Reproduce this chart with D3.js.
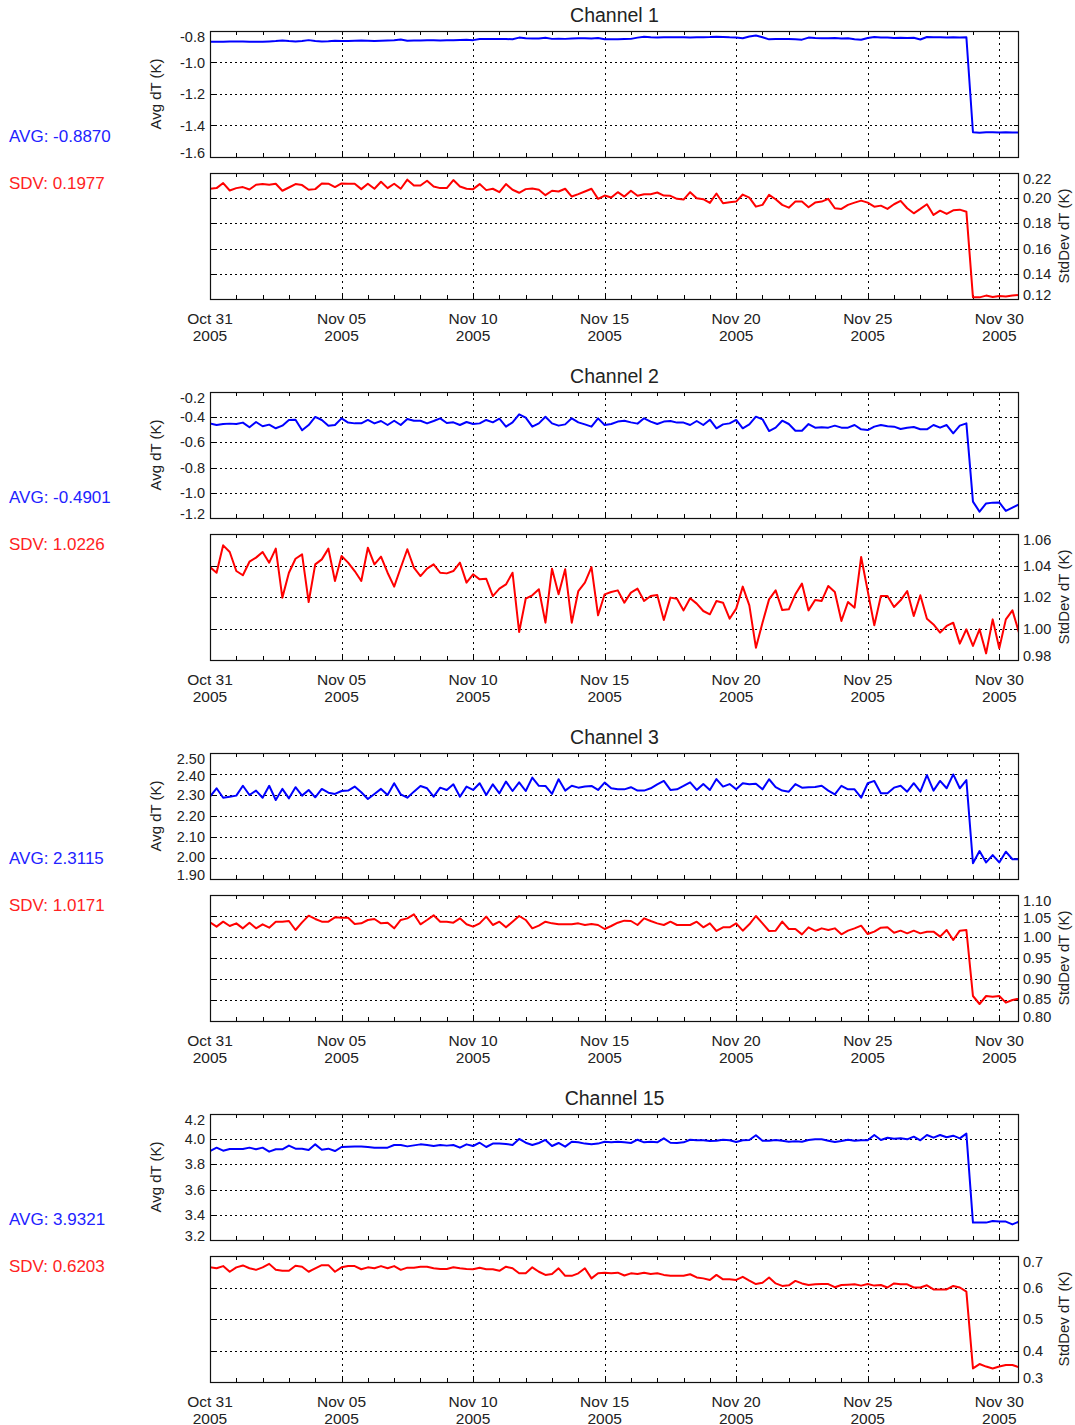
<!DOCTYPE html>
<html>
<head>
<meta charset="utf-8">
<script src="https://cdn.jsdelivr.net/npm/d3@7"></script>
<style>
  html, body { margin: 0; padding: 0; background: #fff; }
  svg { display: block; font-family: "Liberation Sans", Arial, Helvetica, sans-serif; }
</style>
</head>
<body>
<svg id="chart" width="1075" height="1425"></svg>
<script>
// ---- Data: 6-hourly averages and standard deviations of dT, Oct 31 - Nov 30 2005 ----
const channelNames = ["Channel 1", "Channel 2", "Channel 3", "Channel 15"];
const avgSummary = ["-0.8870", "-0.4901", "2.3115", "3.9321"];
const sdvSummary = ["0.1977", "1.0226", "1.0171", "0.6203"];

const sampleStart = "2005-10-31T00:00:00Z";
const sampleStepHours = 6;

const ch1Avg = [
  -0.868,-0.868,-0.868,-0.867,-0.866,-0.867,-0.868,-0.868,-0.868,-0.866,
  -0.864,-0.860,-0.864,-0.866,-0.864,-0.858,-0.864,-0.866,-0.865,-0.862,
  -0.864,-0.863,-0.862,-0.861,-0.862,-0.864,-0.862,-0.860,-0.858,-0.854,
  -0.862,-0.861,-0.860,-0.858,-0.859,-0.860,-0.859,-0.858,-0.857,-0.856,
  -0.858,-0.851,-0.851,-0.850,-0.850,-0.851,-0.852,-0.842,-0.846,-0.848,
  -0.848,-0.843,-0.850,-0.849,-0.850,-0.847,-0.846,-0.846,-0.848,-0.845,
  -0.852,-0.853,-0.852,-0.851,-0.850,-0.842,-0.836,-0.840,-0.841,-0.840,
  -0.840,-0.839,-0.840,-0.841,-0.840,-0.839,-0.838,-0.836,-0.838,-0.840,
  -0.841,-0.846,-0.835,-0.829,-0.840,-0.853,-0.851,-0.850,-0.851,-0.853,
  -0.855,-0.842,-0.845,-0.846,-0.846,-0.845,-0.847,-0.846,-0.852,-0.856,
  -0.845,-0.838,-0.842,-0.842,-0.844,-0.843,-0.845,-0.843,-0.854,-0.838,
  -0.840,-0.840,-0.841,-0.840,-0.841,-0.840,
  -1.443,-1.446,-1.443,-1.443,-1.444,-1.443,-1.445,-1.444
];
const ch1Std = [
  0.2075,0.2080,0.2120,0.2061,0.2080,0.2088,0.2069,0.2107,0.2112,0.2107,
  0.2115,0.2059,0.2085,0.2112,0.2104,0.2067,0.2072,0.2117,0.2115,0.2088,
  0.2117,0.2115,0.2115,0.2072,0.2115,0.2075,0.2131,0.2080,0.2115,0.2075,
  0.2147,0.2101,0.2101,0.2139,0.2093,0.2080,0.2080,0.2144,0.2093,0.2075,
  0.2072,0.2112,0.2064,0.2075,0.2048,0.2112,0.2067,0.2043,0.2072,0.2077,
  0.2067,0.2024,0.2059,0.2053,0.2075,0.2013,0.2032,0.2053,0.2075,0.1995,
  0.2021,0.2005,0.2048,0.2013,0.2059,0.2019,0.2032,0.2032,0.2045,0.2021,
  0.2019,0.1995,0.1989,0.2048,0.2000,0.1992,0.1963,0.2037,0.1960,0.1968,
  0.1973,0.2029,0.2005,0.1933,0.1947,0.2027,0.1992,0.1947,0.1925,0.1973,
  0.1973,0.1928,0.1965,0.1973,0.1995,0.1920,0.1915,0.1947,0.1965,0.1981,
  0.1965,0.1933,0.1941,0.1915,0.1952,0.1979,0.1920,0.1880,0.1915,0.1952,
  0.1867,0.1901,0.1875,0.1904,0.1909,0.1893,
  0.1213,0.1213,0.1227,0.1216,0.1224,0.1219,0.1227,0.1232
];
const ch2Avg = [
  -0.449,-0.462,-0.454,-0.451,-0.454,-0.443,-0.480,-0.438,-0.472,-0.459,
  -0.488,-0.467,-0.422,-0.420,-0.504,-0.462,-0.398,-0.422,-0.467,-0.462,
  -0.409,-0.443,-0.449,-0.449,-0.422,-0.449,-0.430,-0.462,-0.428,-0.462,
  -0.414,-0.428,-0.428,-0.449,-0.430,-0.409,-0.446,-0.441,-0.462,-0.438,
  -0.454,-0.449,-0.422,-0.441,-0.412,-0.475,-0.441,-0.377,-0.404,-0.475,
  -0.449,-0.396,-0.449,-0.467,-0.457,-0.409,-0.441,-0.457,
  -0.475,-0.409,-0.462,-0.454,-0.435,-0.428,-0.441,-0.451,-0.409,-0.435,
  -0.454,-0.435,-0.430,-0.443,-0.443,-0.462,-0.430,-0.462,-0.420,-0.488,
  -0.457,-0.449,-0.422,-0.488,-0.457,-0.396,-0.417,-0.510,-0.483,-0.428,
  -0.454,-0.507,-0.507,-0.454,-0.483,-0.480,-0.483,-0.467,-0.483,-0.483,
  -0.462,-0.496,-0.502,-0.475,-0.462,-0.472,-0.475,-0.494,
  -0.483,-0.478,-0.496,-0.496,-0.462,-0.483,-0.462,-0.528,-0.467,-0.449,
  -1.070,-1.150,-1.084,-1.078,-1.076,-1.144,-1.118,-1.092
];
const ch2Std = [
  1.0390,1.0354,1.0528,1.0486,1.0365,1.0338,1.0424,1.0450,1.0486,1.0418,
  1.0507,1.0196,1.0354,1.0443,1.0471,1.0168,1.0407,1.0439,1.0507,1.0302,
  1.0460,1.0418,1.0365,1.0302,1.0513,1.0407,1.0456,1.0354,1.0266,1.0386,
  1.0503,1.0386,1.0333,1.0380,1.0407,1.0354,1.0350,1.0365,1.0418,1.0291,
  1.0344,1.0312,1.0316,1.0206,1.0253,1.0280,1.0354,0.9978,1.0189,1.0211,
  1.0249,1.0037,1.0380,1.0217,1.0376,1.0037,1.0238,1.0291,1.0390,1.0084,
  1.0217,1.0232,1.0242,1.0164,1.0228,1.0253,1.0175,1.0206,1.0213,1.0054,
  1.0196,1.0189,1.0115,1.0192,1.0158,1.0111,1.0090,1.0175,1.0164,1.0062,
  1.0126,1.0266,1.0147,0.9878,1.0037,1.0185,1.0242,1.0117,1.0122,1.0217,
  1.0285,1.0115,1.0181,1.0175,1.0270,1.0232,1.0048,1.0168,1.0132,1.0454,
  1.0238,1.0020,1.0206,1.0206,1.0137,1.0179,1.0238,1.0079,1.0211,1.0062,
  1.0026,0.9974,1.0016,1.0037,0.9904,0.9995,
  0.9889,0.9995,0.9842,1.0058,0.9874,1.0058,1.0115,0.9974
];
const ch3Avg = [
  2.292,2.332,2.287,2.292,2.297,2.344,2.300,2.321,2.287,2.344,
  2.276,2.329,2.284,2.337,2.297,2.324,2.289,2.329,2.311,2.305,
  2.319,2.321,2.340,2.313,2.281,2.305,2.329,2.300,2.356,2.303,
  2.287,2.316,2.343,2.332,2.292,2.335,2.324,2.351,2.292,2.340,
  2.324,2.356,2.300,2.351,2.308,2.364,2.319,2.360,2.319,2.383,
  2.344,2.343,2.305,2.375,2.321,2.344,2.335,2.340,2.343,2.324,
  2.359,2.332,2.327,2.327,2.337,2.321,2.321,2.332,2.351,2.367,
  2.324,2.327,2.343,2.360,2.324,2.352,2.324,2.376,2.340,2.352,
  2.327,2.356,2.351,2.354,2.327,2.375,2.337,2.321,2.316,2.352,
  2.335,2.337,2.338,2.344,2.321,2.303,2.344,2.327,2.327,2.287,
  2.356,2.367,2.308,2.308,2.335,2.344,2.316,2.356,2.316,2.395,
  2.321,2.367,2.332,2.398,2.332,2.371,
  1.975,2.033,1.979,2.014,1.979,2.030,1.994,1.994
];
const ch3Std = [
  1.0349,1.0246,1.0365,1.0262,1.0325,1.0206,1.0341,1.0206,1.0302,1.0222,
  1.0365,1.0365,1.0381,1.0167,1.0349,1.0508,1.0429,1.0365,1.0365,1.0468,
  1.0460,1.0460,1.0310,1.0325,1.0405,1.0429,1.0325,1.0341,1.0206,1.0405,
  1.0444,1.0540,1.0302,1.0405,1.0516,1.0365,1.0365,1.0341,1.0444,1.0302,
  1.0246,1.0325,1.0484,1.0286,1.0365,1.0230,1.0365,1.0500,1.0405,1.0206,
  1.0270,1.0365,1.0325,1.0302,1.0302,1.0302,1.0325,1.0286,1.0310,1.0286,
  1.0190,1.0262,1.0341,1.0389,1.0381,1.0286,1.0444,1.0381,1.0325,1.0286,
  1.0365,1.0286,1.0286,1.0286,1.0365,1.0230,1.0325,1.0143,1.0230,1.0230,
  1.0325,1.0151,1.0302,1.0500,1.0325,1.0143,1.0151,1.0365,1.0190,1.0190,
  1.0063,1.0230,1.0143,1.0206,1.0167,1.0206,1.0063,1.0151,1.0206,1.0270,
  1.0071,1.0127,1.0222,1.0230,1.0103,1.0151,1.0087,1.0151,1.0087,1.0127,
  1.0127,1.0008,1.0167,0.9929,1.0151,1.0167,
  0.8595,0.8405,0.8595,0.8579,0.8595,0.8437,0.8500,0.8532
];
const ch15Avg = [
  3.906,3.933,3.909,3.922,3.922,3.922,3.933,3.920,3.933,3.901,
  3.920,3.920,3.949,3.925,3.925,3.914,3.959,3.917,3.925,3.906,
  3.938,3.941,3.943,3.943,3.938,3.933,3.933,3.933,3.954,3.954,
  3.943,3.951,3.959,3.954,3.946,3.954,3.949,3.954,3.933,3.959,
  3.946,3.972,3.938,3.965,3.965,3.962,3.954,4.002,3.972,3.954,
  3.970,3.994,3.946,3.970,3.941,3.980,3.975,3.965,3.959,3.965,
  3.980,3.975,3.980,3.975,3.970,3.996,3.975,3.980,3.975,4.007,
  3.972,3.970,3.975,3.996,3.991,3.991,3.986,3.988,3.996,3.991,
  3.978,3.991,3.994,4.031,3.988,3.988,3.994,3.988,3.980,3.983,
  3.980,3.994,3.999,3.999,3.988,3.978,3.986,3.996,3.988,3.991,
  3.991,4.033,3.994,4.012,4.004,4.007,3.999,4.020,3.991,4.033,
  4.012,4.033,4.015,4.028,4.007,4.044,
  3.338,3.338,3.338,3.351,3.346,3.346,3.324,3.346
];
const ch15Std = [
  0.664,0.661,0.668,0.650,0.664,0.670,0.661,0.656,0.664,0.675,
  0.656,0.653,0.653,0.669,0.666,0.650,0.661,0.671,0.671,0.650,
  0.664,0.668,0.668,0.658,0.664,0.661,0.668,0.661,0.668,0.656,
  0.663,0.663,0.666,0.666,0.661,0.659,0.659,0.664,0.661,0.659,
  0.658,0.663,0.658,0.658,0.653,0.666,0.661,0.645,0.645,0.664,
  0.650,0.640,0.643,0.661,0.637,0.637,0.645,0.661,0.629,0.645,
  0.647,0.645,0.647,0.638,0.645,0.643,0.647,0.643,0.645,0.640,
  0.637,0.637,0.637,0.642,0.632,0.629,0.624,0.640,0.626,0.626,
  0.624,0.634,0.622,0.611,0.615,0.632,0.613,0.605,0.607,0.621,
  0.613,0.608,0.610,0.611,0.611,0.601,0.608,0.609,0.610,0.606,
  0.611,0.606,0.608,0.600,0.613,0.610,0.610,0.600,0.600,0.607,
  0.594,0.594,0.594,0.605,0.600,0.587,
  0.343,0.357,0.349,0.343,0.349,0.354,0.354,0.347
];

// Axis tick values
const avgTicks = [
  [-1.6, -1.4, -1.2, -1.0, -0.8],
  [-1.2, -1.0, -0.8, -0.6, -0.4, -0.2],
  [1.9, 2.0, 2.1, 2.2, 2.3, 2.4, 2.5],
  [3.2, 3.4, 3.6, 3.8, 4.0, 4.2]
];
const avgTickFormat = [".1f", ".1f", ".2f", ".1f"];
const sdvTicks = [
  [0.12, 0.14, 0.16, 0.18, 0.20, 0.22],
  [0.98, 1.00, 1.02, 1.04, 1.06],
  [0.80, 0.85, 0.90, 0.95, 1.00, 1.05, 1.10],
  [0.3, 0.4, 0.5, 0.6, 0.7]
];
const sdvTickFormat = [".2f", ".2f", ".2f", ".1f"];
const dateTicks = ["2005-10-31", "2005-11-05", "2005-11-10", "2005-11-15",
                   "2005-11-20", "2005-11-25", "2005-11-30"];

const avgSeries = [ch1Avg, ch2Avg, ch3Avg, ch15Avg];
const sdvSeries = [ch1Std, ch2Std, ch3Std, ch15Std];

// ---- Layout ----
const plotLeft = 210, plotRight = 1019;
const blockHeight = 361;
const avgPanel = { top: 31, bottom: 157 };
const sdvPanel = { top: 173, bottom: 299 };
const AVG_COLOR = "#0000ff", SDV_COLOR = "#ff0000";
const TEXT_COLOR = "#222";
const TICK_FONT = 14.5;

// plain hyphen for negative numbers
const numLocale = d3.formatLocale({
  decimal: ".", thousands: ",", grouping: [3], currency: ["", ""], minus: "-"
});

const svg = d3.select("#chart");
svg.append("rect").attr("width", 1075).attr("height", 1425).attr("fill", "#fff");

const t0 = new Date(sampleStart).getTime();
const times = ch1Avg.map((_, i) => new Date(t0 + i * sampleStepHours * 3600e3));

const x = d3.scaleUtc().domain(d3.extent(times)).range([plotLeft, plotRight]);
const majorDates = dateTicks.map(s => new Date(s + "T00:00:00Z"));
const dayTicks = d3.utcDay.range(times[0], times[times.length - 1]);
const monthFmt = d3.utcFormat("%b %d");
const yearFmt = d3.utcFormat("%Y");

function drawPanel(g, id, yTop, yBot, ticks, fmt, values, color, side) {
  const y = d3.scaleLinear().domain(d3.extent(ticks)).range([yBot, yTop]);
  const f = numLocale.format(fmt);

  g.append("clipPath").attr("id", id)
    .append("rect").attr("x", plotLeft).attr("y", yTop)
    .attr("width", plotRight - plotLeft).attr("height", yBot - yTop);

  // dotted horizontal grid (interior ticks)
  g.selectAll(null).data(ticks.slice(1, -1)).enter().append("line")
    .attr("x1", plotLeft).attr("x2", plotRight)
    .attr("y1", d => Math.round(y(d)) + 0.5).attr("y2", d => Math.round(y(d)) + 0.5)
    .attr("stroke", "#000").attr("stroke-width", 1).attr("stroke-dasharray", "2,3");

  // dotted vertical grid at 5-day marks
  g.selectAll(null).data(majorDates.slice(1)).enter().append("line")
    .attr("x1", d => Math.round(x(d)) + 0.5).attr("x2", d => Math.round(x(d)) + 0.5)
    .attr("y1", yTop).attr("y2", yBot)
    .attr("stroke", "#000").attr("stroke-width", 1).attr("stroke-dasharray", "2,4");

  // minor day ticks on top and bottom frame
  g.selectAll(null).data(dayTicks).enter().append("path")
    .attr("d", d => {
      const xx = Math.round(x(d)) + 0.5;
      return `M${xx},${yTop}v4M${xx},${yBot}v-4`;
    })
    .attr("stroke", "#000").attr("stroke-width", 1);

  // y tick stubs on both frame sides
  g.selectAll(null).data(ticks.slice(1, -1)).enter().append("path")
    .attr("d", d => {
      const yy = Math.round(y(d)) + 0.5;
      return `M${plotLeft},${yy}h5M${plotRight},${yy}h-5`;
    })
    .attr("stroke", "#000").attr("stroke-width", 1);

  // data line
  const line = d3.line().x((d, i) => x(times[i])).y(d => y(d));
  g.append("path").datum(values)
    .attr("clip-path", `url(#${id})`)
    .attr("d", line)
    .attr("fill", "none").attr("stroke", color)
    .attr("stroke-width", 2).attr("stroke-linejoin", "round");

  // frame
  g.append("rect")
    .attr("x", plotLeft + 0.5).attr("y", yTop + 0.5)
    .attr("width", plotRight - plotLeft - 1).attr("height", yBot - yTop)
    .attr("fill", "none").attr("stroke", "#111").attr("stroke-width", 1.2);

  // tick labels; end labels are kept inside the frame height
  const n = ticks.length;
  const step = y(ticks[0]) - y(ticks[1]);
  g.selectAll(null).data(ticks).enter().append("text")
    .attr("x", side === "left" ? plotLeft - 5 : plotRight + 4)
    .attr("y", (d, i) => {
      let c = y(d);
      if (i === 0) c -= 4;
      if (i === n - 1) c += 6;
      if (i === n - 2 && step < 24) c += 1.5;
      if (i === 1 && step < 24) c -= 1;
      return c + 5;
    })
    .attr("text-anchor", side === "left" ? "end" : "start")
    .attr("font-size", TICK_FONT).attr("fill", TEXT_COLOR)
    .text(d => f(d));
  return y;
}

channelNames.forEach((name, c) => {
  const off = c * blockHeight;
  const g = svg.append("g");

  g.append("text")
    .attr("x", (plotLeft + plotRight) / 2).attr("y", off + 21.5)
    .attr("text-anchor", "middle").attr("font-size", 19.5).attr("fill", TEXT_COLOR)
    .text(name);

  drawPanel(g, `clipAvg${c}`, off + avgPanel.top, off + avgPanel.bottom,
            avgTicks[c], avgTickFormat[c], avgSeries[c], AVG_COLOR, "left");
  drawPanel(g, `clipSdv${c}`, off + sdvPanel.top, off + sdvPanel.bottom,
            sdvTicks[c], sdvTickFormat[c], sdvSeries[c], SDV_COLOR, "right");

  // axis titles
  g.append("text")
    .attr("transform", `translate(161,${off + (avgPanel.top + avgPanel.bottom) / 2}) rotate(-90)`)
    .attr("text-anchor", "middle").attr("font-size", 15).attr("fill", TEXT_COLOR)
    .text("Avg dT (K)");
  g.append("text")
    .attr("transform", `translate(1069,${off + (sdvPanel.top + sdvPanel.bottom) / 2}) rotate(-90)`)
    .attr("text-anchor", "middle").attr("font-size", 15).attr("fill", TEXT_COLOR)
    .text("StdDev dT (K)");

  // date labels under the std-dev panel
  const lbl = g.selectAll(null).data(majorDates).enter().append("text")
    .attr("x", d => x(d)).attr("text-anchor", "middle")
    .attr("font-size", 15.5).attr("fill", TEXT_COLOR);
  lbl.append("tspan").attr("x", d => x(d)).attr("y", off + sdvPanel.bottom + 25).text(d => monthFmt(d));
  lbl.append("tspan").attr("x", d => x(d)).attr("y", off + sdvPanel.bottom + 41.5).text(d => yearFmt(d));

  // summary values
  g.append("text").attr("x", 9).attr("y", off + 142)
    .attr("font-size", 17).attr("fill", "#2222ff").text(`AVG: ${avgSummary[c]}`);
  g.append("text").attr("x", 9).attr("y", off + 189)
    .attr("font-size", 17).attr("fill", "#ff2222").text(`SDV: ${sdvSummary[c]}`);
});
</script>
</body>
</html>
